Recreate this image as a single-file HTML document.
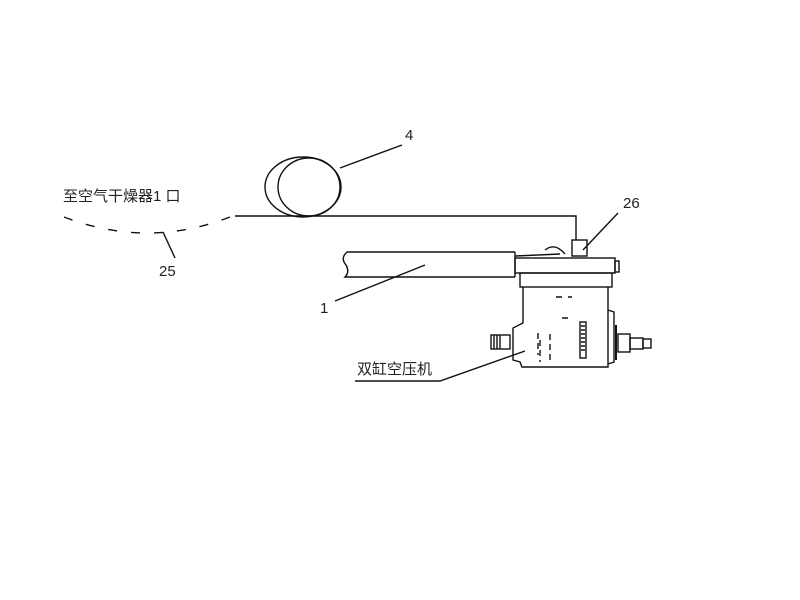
<!DOCTYPE html>
<html><head><meta charset="utf-8"><style>
body{margin:0;background:#fff}
svg{display:block}
text{font-family:"Liberation Sans","Noto Sans CJK SC",sans-serif;fill:#222}
</style></head><body>
<svg width="800" height="600" viewBox="0 0 800 600" xmlns="http://www.w3.org/2000/svg">
<g fill="none" stroke="#111" stroke-width="1.4">
<ellipse cx="303" cy="187" rx="38" ry="30"/>
<ellipse cx="309" cy="187" rx="31" ry="29"/>
<path d="M340 168 L402 145"/>
<path d="M235 216 L576 216 L576 240"/>
<path d="M64 217 Q150 250 235 215" stroke-dasharray="9,14"/>
<path d="M163 232 L175 258"/>
<rect x="572" y="240" width="15" height="16"/>
<path d="M583 250 L618 213"/>
<path d="M515 252 L347 252 Q340 258 346 265 Q350 272 345 277 L515 277"/>
<path d="M515 252 L515 277"/>
<path d="M335 301 L425 265"/>
<path d="M515 256 L560 254 M545 250 Q555 242 565 254"/>
<rect x="515" y="258" width="100" height="15"/>
<rect x="615" y="261" width="4" height="11"/>
<rect x="520" y="273" width="92" height="14"/>
<path d="M523 287 L523 323 L513 328 L513 360 L520 362 L522 367 L608 367 L608 287"/>
<path d="M608 310 L614 312 L614 362 L608 364"/>
<path d="M616 325 L616 360" stroke-width="2"/>
<path d="M556 297 L562 297 M568 297 L572 297 M562 318 L568 318"/>
<path d="M538 333 L538 355 M540 340 L540 362 M550 334 L550 362" stroke-dasharray="6,4"/>
<rect x="580" y="322" width="6" height="36"/>
<path d="M581 326 L585 326 M581 330 L585 330 M581 334 L585 334 M581 338 L585 338 M581 342 L585 342 M581 346 L585 346 M581 350 L585 350"/>
<rect x="491" y="335" width="19" height="14"/>
<path d="M494 335 L494 349 M497 335 L497 349 M500 335 L500 349"/>
<rect x="618" y="334" width="12" height="18"/>
<rect x="630" y="338" width="13" height="11"/>
<rect x="643" y="339" width="8" height="9"/>
<path d="M355 381 L440 381 L525 351"/>
</g>
<text x="63" y="201" font-size="15">至空气干燥器1 口</text>
<text x="405" y="140" font-size="15">4</text>
<text x="623" y="208" font-size="15">26</text>
<text x="159" y="276" font-size="15">25</text>
<text x="320" y="313" font-size="15">1</text>
<text x="357" y="374" font-size="15">双缸空压机</text>
</svg>
</body></html>
